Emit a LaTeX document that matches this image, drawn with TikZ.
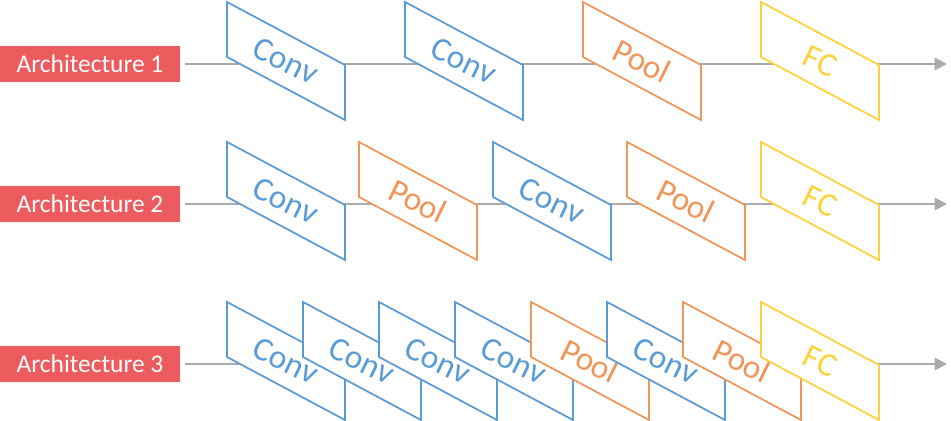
\documentclass[tikz,border=0pt]{standalone}
\usepackage{fontspec}
\setmainfont{Carlito}
\usetikzlibrary{positioning,arrows.meta}
\definecolor{convblue}{RGB}{91,155,213}
\definecolor{poolorange}{RGB}{240,150,90}
\definecolor{fcyellow}{RGB}{255,210,60}
\definecolor{archred}{RGB}{236,92,94}
\definecolor{flowgray}{RGB}{170,170,170}
\tikzset{
  archlabel/.style={fill=archred,text=white,minimum width=3.6cm,minimum height=0.72cm,inner sep=0pt,font=\fontsize{14.5}{16}\selectfont},
  flow/.style={flowgray,line width=1.2pt,-{Triangle[length=7pt,width=7pt]}},
  layertext/.style={rotate=-26,font=\fontsize{19}{21}\selectfont}
}
% one slanted layer: #1 left x, #2 row y, #3 colour, #4 text, #5 name
\newcommand{\layer}[5]{%
  \filldraw[#3,fill=white,line width=1pt] (#1,#2-62) -- (#1+118,#2+1) -- (#1+118,#2+56) -- (#1,#2-7) -- cycle;
  \node[layertext,text=#3] (#5) at (#1+59,#2-3) {#4};
}
\begin{document}
\begin{tikzpicture}[x=0.02cm,y=-0.02cm]
\useasboundingbox (0,0) rectangle (951,421);
% row 1
\node[archlabel] (arch1) at (90,64) {Architecture 1};
\coordinate (end1) at (947,64);
\draw[flow] (185,64) -- (end1);
\foreach \x/\c/\t [count=\i] in {227/convblue/Conv,405/convblue/Conv,583/poolorange/Pool,761/fcyellow/FC}
  {\layer{\x}{64}{\c}{\t}{a\i}}
% row 2
\node[archlabel] (arch2) at (90,204) {Architecture 2};
\coordinate (end2) at (947,204);
\draw[flow] (185,204) -- (end2);
\foreach \x/\c/\t [count=\i] in {227/convblue/Conv,359/poolorange/Pool,493/convblue/Conv,627/poolorange/Pool,761/fcyellow/FC}
  {\layer{\x}{204}{\c}{\t}{b\i}}
% row 3
\node[archlabel] (arch3) at (90,364) {Architecture 3};
\coordinate (end3) at (947,364);
\draw[flow] (185,364) -- (end3);
\foreach \x/\c/\t [count=\i] in {227/convblue/Conv,303/convblue/Conv,379/convblue/Conv,455/convblue/Conv,531/poolorange/Pool,607/convblue/Conv,683/poolorange/Pool,761/fcyellow/FC}
  {\layer{\x}{364}{\c}{\t}{c\i}}
\end{tikzpicture}
\end{document}
